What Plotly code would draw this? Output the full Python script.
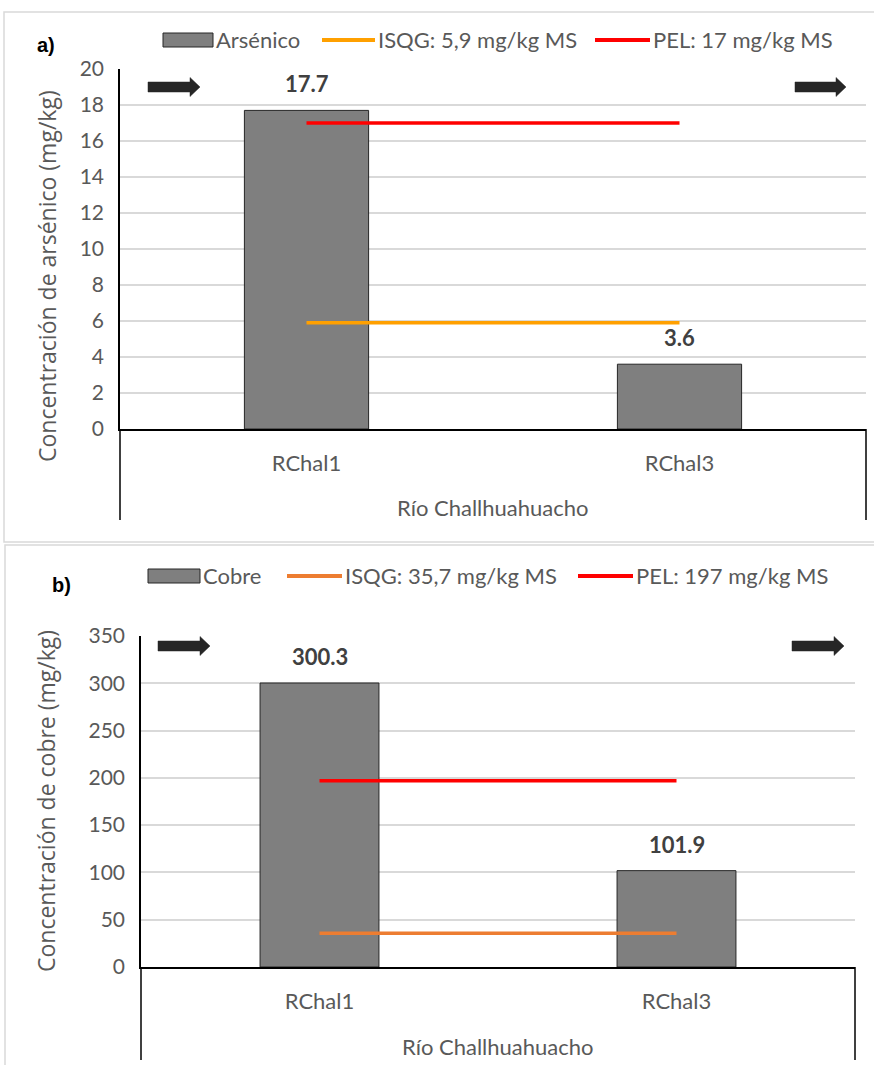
import plotly.graph_objects as go

# ---------------- data ----------------
categories = ["RChal1", "RChal3"]
group_label = "Río Challhuahuacho"

arsenic = [17.7, 3.6]
arsenic_isqg = 5.9
arsenic_pel = 17.0
arsenic_ticks = [0, 2, 4, 6, 8, 10, 12, 14, 16, 18, 20]

copper = [300.3, 101.9]
copper_isqg = 35.7
copper_pel = 197.0
copper_ticks = [0, 50, 100, 150, 200, 250, 300, 350]

# ---------------- helpers (pixel -> paper) ----------------
W, H = 874, 1065


def px(x):
    return x / W


def py(y):
    return 1 - y / H


TXT = "#595959"
TICKFONT = dict(family="Lato", size=21, color=TXT)
CATFONT = dict(family="Lato", size=22, color=TXT)
LEGFONT = dict(family="Lato", size=22, color=TXT)
TITLEFONT = dict(family="Open Sans", size=23, color=TXT)
LABFONT = dict(family="Lato", size=22, color="#404040")
BAR_COLOR = "#7F7F7F"
BAR_EDGE = "#262626"
RED = "#FF0000"
ORANGE_A = "#FFA000"
ORANGE_B = "#ED7D31"

fig = go.Figure()

# ---------------- panel a ----------------
fig.add_trace(go.Bar(x=categories, y=arsenic, name="Arsénico",
                     marker=dict(color=BAR_COLOR, line=dict(color=BAR_EDGE, width=1)),
                     xaxis="x", yaxis="y", showlegend=False))
fig.add_trace(go.Scatter(x=categories, y=[arsenic_isqg] * len(categories), mode="lines",
                         name="ISQG: 5,9 mg/kg MS", line=dict(color=ORANGE_A, width=3.5),
                         xaxis="x", yaxis="y", showlegend=False))
fig.add_trace(go.Scatter(x=categories, y=[arsenic_pel] * len(categories), mode="lines",
                         name="PEL: 17 mg/kg MS", line=dict(color=RED, width=3.5),
                         xaxis="x", yaxis="y", showlegend=False))

# ---------------- panel b ----------------
fig.add_trace(go.Bar(x=categories, y=copper, name="Cobre",
                     marker=dict(color=BAR_COLOR, line=dict(color=BAR_EDGE, width=1)),
                     xaxis="x2", yaxis="y2", showlegend=False))
fig.add_trace(go.Scatter(x=categories, y=[copper_isqg] * len(categories), mode="lines",
                         name="ISQG: 35,7 mg/kg MS", line=dict(color=ORANGE_B, width=3.5),
                         xaxis="x2", yaxis="y2", showlegend=False))
fig.add_trace(go.Scatter(x=categories, y=[copper_pel] * len(categories), mode="lines",
                         name="PEL: 197 mg/kg MS", line=dict(color=RED, width=3.5),
                         xaxis="x2", yaxis="y2", showlegend=False))

xa_common = dict(type="category", showline=True, linecolor="black", linewidth=1.5,
                 ticks="", showgrid=False, zeroline=False, tickfont=CATFONT,
                 ticklabelstandoff=14, range=[-0.5, 1.5], fixedrange=True, automargin=False)
ya_common = dict(showline=True, linecolor="black", linewidth=1.5, ticks="",
                 showgrid=True, gridcolor="#D9D9D9", gridwidth=1.5, zeroline=False,
                 tickfont=TICKFONT, ticklabelstandoff=10, fixedrange=True, automargin=False)

fig.update_layout(
    width=W, height=H, margin=dict(l=0, r=0, t=0, b=0, autoexpand=False),
    paper_bgcolor="white", plot_bgcolor="white",
    bargap=0.667, showlegend=False,
    xaxis=dict(domain=[px(120), px(866)], anchor="y", **xa_common),
    yaxis=dict(domain=[py(429), py(69)], anchor="x", range=[0, 20],
               tickvals=arsenic_ticks, **ya_common),
    xaxis2=dict(domain=[px(141), px(855)], anchor="y2", **xa_common),
    yaxis2=dict(domain=[py(967), py(636)], anchor="x2", range=[0, 350],
                tickvals=copper_ticks, **ya_common),
)

shapes = []
annotations = []

# panel frames
shapes.append(dict(type="rect", xref="paper", yref="paper", x0=px(4), x1=px(880),
                   y0=py(542), y1=py(12), line=dict(color="#D9D9D9", width=1.5),
                   fillcolor="rgba(0,0,0,0)", layer="below"))
shapes.append(dict(type="rect", xref="paper", yref="paper", x0=px(5), x1=px(880),
                   y0=py(1075), y1=py(545), line=dict(color="#D9D9D9", width=1.5),
                   fillcolor="rgba(0,0,0,0)", layer="below"))

# multi-level category separators
for xx, y_top, y_bot in [(120, 429, 520), (866, 429, 520), (141, 967, 1060), (855, 967, 1060)]:
    shapes.append(dict(type="line", xref="paper", yref="paper", x0=px(xx), x1=px(xx),
                       y0=py(y_top), y1=py(y_bot), line=dict(color="black", width=1.5)))


# block arrows (decoration)
def arrow(x0, x1, yc):
    p = (f"M {px(x0)},{py(yc - 5)} L {px(x1 - 10)},{py(yc - 5)} L {px(x1 - 10)},{py(yc - 9.5)} "
         f"L {px(x1)},{py(yc)} L {px(x1 - 10)},{py(yc + 9.5)} L {px(x1 - 10)},{py(yc + 5)} "
         f"L {px(x0)},{py(yc + 5)} Z")
    return dict(type="path", xref="paper", yref="paper", path=p,
                fillcolor="#262626", line=dict(color="#262626", width=0.5))


for a in [(148, 200, 87), (795, 846, 87), (158, 210, 646), (792, 844, 646)]:
    shapes.append(arrow(*a))


# custom legends
def legend_row(yc, items):
    for kind, color, x0, x1, text in items:
        if kind == "bar":
            shapes.append(dict(type="rect", xref="paper", yref="paper", x0=px(x0), x1=px(x1),
                               y0=py(yc + 7), y1=py(yc - 7), fillcolor=BAR_COLOR,
                               line=dict(color=BAR_EDGE, width=1)))
        else:
            shapes.append(dict(type="line", xref="paper", yref="paper", x0=px(x0), x1=px(x1),
                               y0=py(yc), y1=py(yc), line=dict(color=color, width=4)))
        annotations.append(dict(xref="paper", yref="paper", x=px(x1 + 1), y=py(yc),
                                xanchor="left", yanchor="middle", text=text,
                                showarrow=False, font=LEGFONT))


legend_row(40, [("bar", BAR_COLOR, 163, 213, "Arsénico"),
                ("line", ORANGE_A, 322, 375, "ISQG: 5,9 mg/kg MS"),
                ("line", RED, 595, 650, "PEL: 17 mg/kg MS")])
legend_row(576, [("bar", BAR_COLOR, 148, 200, "Cobre"),
                 ("line", ORANGE_B, 287, 342, "ISQG: 35,7 mg/kg MS"),
                 ("line", RED, 578, 633, "PEL: 197 mg/kg MS")])

# panel letters
LETTERFONT = dict(family="Liberation Sans", size=20, color="black")
annotations.append(dict(xref="paper", yref="paper", x=px(46), y=py(45), text="<b>a)</b>",
                        xanchor="center", yanchor="middle", showarrow=False, font=LETTERFONT))
annotations.append(dict(xref="paper", yref="paper", x=px(62), y=py(585), text="<b>b)</b>",
                        xanchor="center", yanchor="middle", showarrow=False, font=LETTERFONT))

# axis titles
annotations.append(dict(xref="paper", yref="paper", x=px(47), y=py(276), textangle=-90,
                        xanchor="center", yanchor="middle",
                        text="Concentración de arsénico (mg/kg)", showarrow=False, font=TITLEFONT))
annotations.append(dict(xref="paper", yref="paper", x=px(46), y=py(801), textangle=-90,
                        xanchor="center", yanchor="middle",
                        text="Concentración de cobre (mg/kg)", showarrow=False, font=TITLEFONT))

# group labels
annotations.append(dict(xref="paper", yref="paper", x=px(493), y=py(507), text=group_label,
                        xanchor="center", yanchor="middle", showarrow=False, font=CATFONT))
annotations.append(dict(xref="paper", yref="paper", x=px(498), y=py(1046), text=group_label,
                        xanchor="center", yanchor="middle", showarrow=False, font=CATFONT))

# data labels
for cat, v in zip(categories, arsenic):
    annotations.append(dict(xref="x", yref="y", x=cat, y=v, text=f"<b>{v:.1f}</b>",
                            xanchor="center", yanchor="bottom", yshift=11,
                            showarrow=False, font=LABFONT))
for cat, v in zip(categories, copper):
    annotations.append(dict(xref="x2", yref="y2", x=cat, y=v, text=f"<b>{v:.1f}</b>",
                            xanchor="center", yanchor="bottom", yshift=11,
                            showarrow=False, font=LABFONT))

fig.update_layout(shapes=shapes, annotations=annotations)
fig.write_html("out.html", config={"displayModeBar": False},
               post_script="document.body.style.margin='0';document.body.style.overflow='hidden';")
